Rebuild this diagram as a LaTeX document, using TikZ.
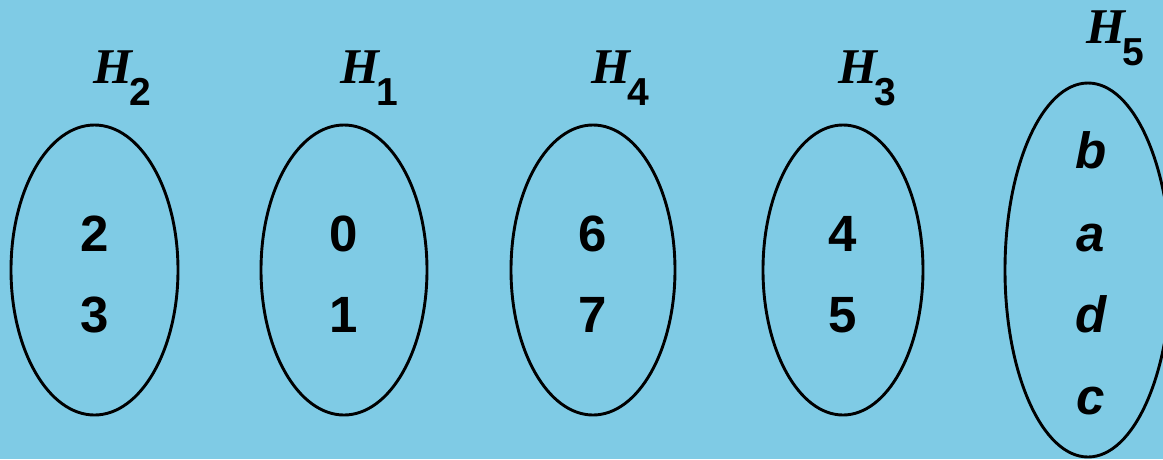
\documentclass[tikz,border=0pt]{standalone}
\usepackage{fontspec}
\setmainfont{Liberation Sans}
\newfontfamily\serifface{Liberation Serif}
\usetikzlibrary{shapes.geometric}
\definecolor{bg}{RGB}{127,203,229}
\tikzset{
  set/.style={ellipse, draw=black, line width=2.9pt, inner sep=0pt,
              minimum width=167pt, minimum height=290pt},
  elem/.style={anchor=base, inner sep=0pt,
               font=\fontsize{51}{51}\selectfont\bfseries},
  letter/.style={elem, font=\fontsize{51}{51}\selectfont\bfseries\itshape},
  lbl/.style={anchor=base west, inner sep=0pt},
}
% set label: bold italic serif H with a bold sans subscript
\newcommand\setlabel[1]{{\fontsize{50}{50}\selectfont\serifface\bfseries\itshape H}\kern-3pt\raisebox{-22pt}{\fontsize{39}{39}\selectfont\bfseries #1}}
\begin{document}
\begin{tikzpicture}[x=1pt,y=-1pt]
  \useasboundingbox (0,0) rectangle (1163,459);
  \fill[bg] (0,0) rectangle (1163,459);
  \clip (0,0) rectangle (1163,459);

  % the five sets
  \node[set] (s2) at (94.5,270) {};
  \node[set, minimum width=166pt] (s1) at (344,270) {};
  \node[set, minimum width=164pt] (s4) at (593,270) {};
  \node[set, minimum width=160pt] (s3) at (843,270) {};
  \node[set, minimum width=166pt, minimum height=374pt] (s5) at (1088,270) {};

  % labels
  \node[lbl] (l2) at (93,83) {\setlabel{2}};
  \node[lbl] (l1) at (340,83) {\setlabel{1}};
  \node[lbl] (l4) at (591,83) {\setlabel{4}};
  \node[lbl] (l3) at (838,83) {\setlabel{3}};
  \node[lbl] (l5) at (1086,43) {\setlabel{5}};

  % elements
  \node[elem] (e2) at (95,251) {2};
  \node[elem] (e3) at (95,332) {3};
  \node[elem] (e0) at (344,251) {0};
  \node[elem] (e1) at (344,332) {1};
  \node[elem] (e6) at (593,251) {6};
  \node[elem] (e7) at (593,332) {7};
  \node[elem] (e4) at (843,251) {4};
  \node[elem] (e5) at (843,332) {5};
  \node[letter] (eb) at (1091,168) {b};
  \node[letter] (ea) at (1091,251) {a};
  \node[letter] (ed) at (1091,332) {d};
  \node[letter] (ec) at (1091,414) {c};
\end{tikzpicture}
\end{document}
